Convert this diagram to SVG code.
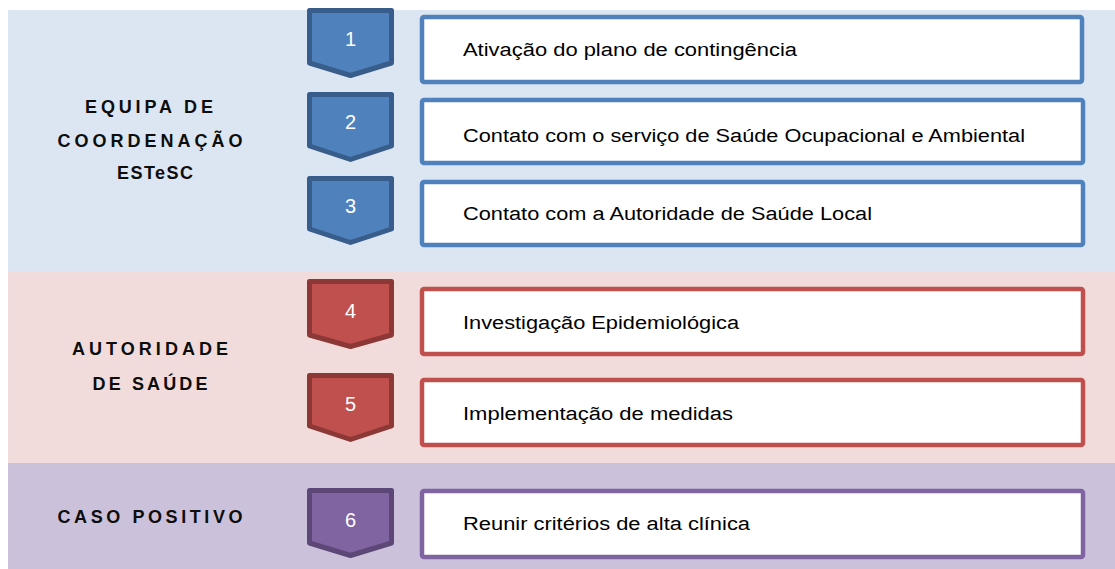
<svg xmlns="http://www.w3.org/2000/svg" width="1115" height="569" viewBox="0 0 1115 569">
<style>
.lbl{font-family:"Liberation Sans",Arial,sans-serif;font-weight:bold;font-size:18px;fill:#0d0d0d;text-anchor:middle}
.num{font-family:"Liberation Sans",Arial,sans-serif;font-size:20px;fill:#ffffff;text-anchor:middle}
.txt{font-family:"Liberation Sans",Arial,sans-serif;font-size:18px;fill:#000000}
.box{fill:#ffffff;stroke-width:4.5}
.chev{stroke-width:5;stroke-linejoin:round}
.blue .box{stroke:#4F81BD}.blue .chev{fill:#4F81BD;stroke:#385D8A}
.red .box{stroke:#C0504D}.red .chev{fill:#C0504D;stroke:#8C3836}
.purple .box{stroke:#8064A2}.purple .chev{fill:#8064A2;stroke:#5C4776}
</style>
<rect width="1115" height="569" fill="#ffffff"/>
<g id="bands">
<rect x="8" y="10" width="1107" height="261" fill="#DCE6F2"/>
<rect x="8" y="271" width="1107" height="192" fill="#F2DCDB"/>
<rect x="8" y="463" width="1107" height="106" fill="#CCC1DA"/>
</g>
<g id="labels">
<text class="lbl" x="149" y="113" textLength="128" lengthAdjust="spacing">EQUIPA DE</text>
<text class="lbl" x="150" y="147" textLength="185" lengthAdjust="spacing">COORDENAÇÃO</text>
<text class="lbl" x="155" y="179" textLength="76" lengthAdjust="spacing">ESTeSC</text>
<text class="lbl" x="150" y="355" textLength="156" lengthAdjust="spacing">AUTORIDADE</text>
<text class="lbl" x="150" y="390" textLength="115" lengthAdjust="spacing">DE SAÚDE</text>
<text class="lbl" x="150" y="523" textLength="185" lengthAdjust="spacing">CASO POSITIVO</text>
</g>
<g id="connectors"></g>
<g id="step1" class="blue">
<path class="chev" d="M309.5,10.5 H391.5 V63 L350.5,75.5 L309.5,63 Z"/>
<text class="num" x="350.5" y="46">1</text>
<rect class="box" x="422" y="17" width="660" height="65" rx="2"/>
<text class="txt" x="463" y="56" textLength="334" lengthAdjust="spacingAndGlyphs">Ativação do plano de contingência</text>
</g>
<g id="step2" class="blue">
<path class="chev" d="M309.5,94.5 H391.5 V146 L350.5,159.5 L309.5,146 Z"/>
<text class="num" x="350.5" y="129">2</text>
<rect class="box" x="422" y="100" width="661" height="63" rx="2"/>
<text class="txt" x="463" y="142" textLength="562" lengthAdjust="spacingAndGlyphs">Contato com o serviço de Saúde Ocupacional e Ambiental</text>
</g>
<g id="step3" class="blue">
<path class="chev" d="M309.5,178.5 H391.5 V229 L350.5,242.5 L309.5,229 Z"/>
<text class="num" x="350.5" y="213">3</text>
<rect class="box" x="422" y="182" width="661" height="63" rx="2"/>
<text class="txt" x="463" y="220" textLength="409" lengthAdjust="spacingAndGlyphs">Contato com a Autoridade de Saúde Local</text>
</g>
<g id="step4" class="red">
<path class="chev" d="M309.5,281.5 H391.5 V335 L350.5,346.5 L309.5,335 Z"/>
<text class="num" x="350.5" y="318">4</text>
<rect class="box" x="422" y="289" width="661" height="65" rx="2"/>
<text class="txt" x="463" y="329" textLength="276" lengthAdjust="spacingAndGlyphs">Investigação Epidemiológica</text>
</g>
<g id="step5" class="red">
<path class="chev" d="M309.5,375.5 H391.5 V426 L350.5,439.5 L309.5,426 Z"/>
<text class="num" x="350.5" y="411">5</text>
<rect class="box" x="422" y="380" width="661" height="65" rx="2"/>
<text class="txt" x="463" y="420" textLength="270" lengthAdjust="spacingAndGlyphs">Implementação de medidas</text>
</g>
<g id="step6" class="purple">
<path class="chev" d="M309.5,490.5 H391.5 V543 L350.5,555.5 L309.5,543 Z"/>
<text class="num" x="350.5" y="527">6</text>
<rect class="box" x="422" y="491" width="661" height="66" rx="2"/>
<text class="txt" x="463" y="530" textLength="287" lengthAdjust="spacingAndGlyphs">Reunir critérios de alta clínica</text>
</g>
</svg>
